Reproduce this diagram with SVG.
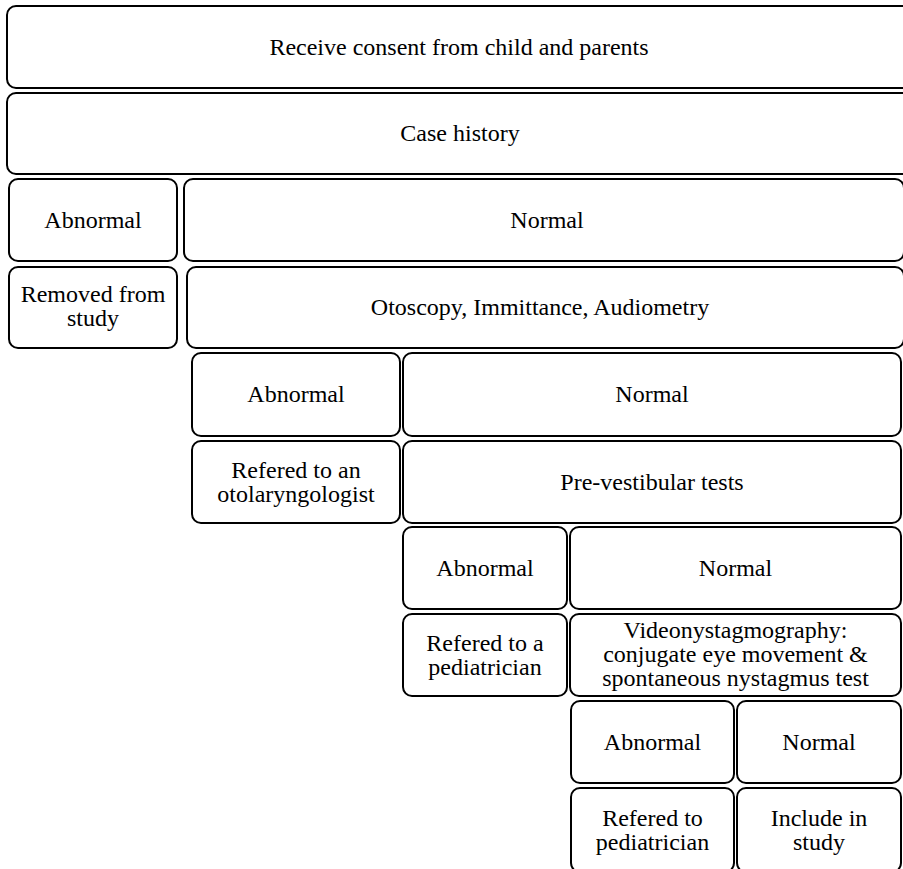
<svg xmlns="http://www.w3.org/2000/svg" width="903" height="869" viewBox="0 0 903 869">
<style>
.box{fill:#fff;stroke:#000;stroke-width:2}
text{font-family:"Liberation Serif","Times New Roman",serif;font-size:24px;fill:#000;text-anchor:middle}
</style>
<rect x="0" y="0" width="903" height="869" fill="#fff"/>
<g id="consent"><rect class="box" x="7" y="6" width="904" height="82" rx="9"/><text x="459" y="55">Receive consent from child and parents</text></g>
<g id="history"><rect class="box" x="7" y="93" width="904" height="81" rx="9"/><text x="460" y="141">Case history</text></g>
<g id="abn1"><rect class="box" x="9" y="179" width="168" height="82" rx="9"/><text x="93" y="228">Abnormal</text></g>
<g id="norm1"><rect class="box" x="184" y="179" width="720" height="82" rx="9"/><text x="547" y="228">Normal</text></g>
<g id="removed"><rect class="box" x="9" y="267" width="168" height="81" rx="9"/><text x="93" y="302">Removed from</text><text x="93" y="326">study</text></g>
<g id="otoscopy"><rect class="box" x="187" y="267" width="717" height="81" rx="9"/><text x="540" y="315">Otoscopy, Immittance, Audiometry</text></g>
<g id="abn2"><rect class="box" x="192" y="353" width="208" height="83" rx="9"/><text x="296" y="402">Abnormal</text></g>
<g id="norm2"><rect class="box" x="403" y="353" width="498" height="83" rx="9"/><text x="652" y="402">Normal</text></g>
<g id="oto"><rect class="box" x="192" y="441" width="208" height="82" rx="9"/><text x="296" y="478">Refered to an</text><text x="296" y="502">otolaryngologist</text></g>
<g id="prevest"><rect class="box" x="403" y="441" width="498" height="82" rx="9"/><text x="652" y="490">Pre-vestibular tests</text></g>
<g id="abn3"><rect class="box" x="403" y="527" width="164" height="82" rx="9"/><text x="485" y="576">Abnormal</text></g>
<g id="norm3"><rect class="box" x="570" y="527" width="331" height="82" rx="9"/><text x="735.5" y="576">Normal</text></g>
<g id="ped1"><rect class="box" x="403" y="614" width="164" height="82" rx="9"/><text x="485" y="651">Refered to a</text><text x="485" y="675">pediatrician</text></g>
<g id="vng"><rect class="box" x="570" y="614" width="331" height="82" rx="9"/><text x="735.5" y="638">Videonystagmography:</text><text x="735.5" y="662">conjugate eye movement &amp;</text><text x="735.5" y="686">spontaneous nystagmus test</text></g>
<g id="abn4"><rect class="box" x="571" y="701" width="163" height="82" rx="9"/><text x="652.5" y="750">Abnormal</text></g>
<g id="norm4"><rect class="box" x="737" y="701" width="164" height="82" rx="9"/><text x="819" y="750">Normal</text></g>
<g id="ped2"><rect class="box" x="571" y="788" width="163" height="84" rx="9"/><text x="652.5" y="826">Refered to</text><text x="652.5" y="850">pediatrician</text></g>
<g id="include"><rect class="box" x="737" y="788" width="164" height="84" rx="9"/><text x="819" y="826">Include in</text><text x="819" y="850">study</text></g>
<g id="connectors"/>
</svg>
